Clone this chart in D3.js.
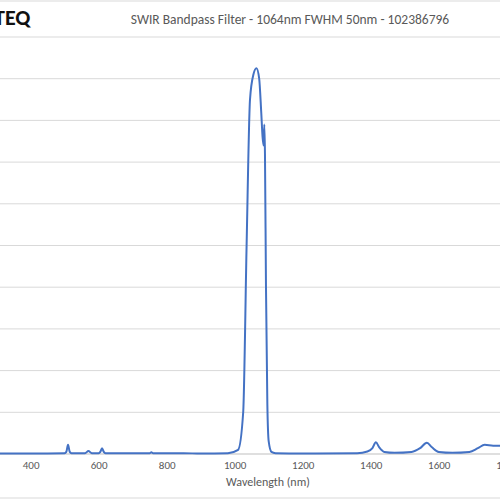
<!DOCTYPE html>
<html><head><meta charset="utf-8">
<script src="https://cdn.jsdelivr.net/npm/d3@7"></script>
<style>body{margin:0;background:#fff}text{font-family:Calibri,Carlito,"Open Sans",sans-serif}</style>
</head><body><svg id="c" width="500" height="500"></svg>
<script>
const wavelength = [310,400,500,505,510,515,520,560,570,580,600,605,610,615,620,750,755,760,850,900,980,1010,1025,1035,1045,1055,1064,1072,1078,1082,1085,1087,1089,1092,1096,1100,1108,1120,1200,1360,1390,1405,1415,1425,1440,1470,1520,1545,1565,1580,1600,1640,1690,1715,1735,1760,1780];
const transmission = [0.1,0.1,0.2,0.5,2.2,0.5,0.2,0.2,0.7,0.2,0.2,0.5,1.4,0.5,0.2,0.2,0.4,0.2,0.2,0.1,0.2,1,10,50,85,91,92.5,90,82,76,74,79,72,40,12,3,0.5,0.2,0.1,0.2,0.6,1.4,2.8,1.6,0.5,0.3,0.5,1.4,2.7,1.6,0.5,0.3,0.5,1.4,2.2,2.0,2.0];
const xTicks = [400,600,800,1000,1200,1400,1600,1800];
const yGrid = [0,10,20,30,40,50,60,70,80,90];

const svg = d3.select("#c");
const x = d3.scaleLinear().domain([310,1780]).range([0,500]);
const y = d3.scaleLinear().domain([0,100]).range([454,37]);

svg.append("line").attr("x1",0).attr("x2",500).attr("y1",1).attr("y2",1).attr("stroke","#d9d9d9");
svg.append("line").attr("x1",0).attr("x2",500).attr("y1",37).attr("y2",37).attr("stroke","#d9d9d9");
svg.append("line").attr("x1",0).attr("x2",500).attr("y1",498).attr("y2",498).attr("stroke","#d9d9d9");
svg.append("text").attr("x",-6).attr("y",25).attr("font-size",22).attr("font-weight","bold").attr("fill","#111").attr("font-family","DejaVu Sans").text("TEQ");
svg.append("text").attr("x",290).attr("y",24).attr("text-anchor","middle").attr("font-size",13.5).attr("fill","#595959").text("SWIR Bandpass Filter - 1064nm FWHM 50nm - 102386796");

svg.selectAll(".g").data(yGrid).join("line").attr("x1",0).attr("x2",500)
 .attr("y1",d=>y(d)).attr("y2",d=>y(d)).attr("stroke",d=>d===0?"#bfbfbf":"#d9d9d9");

const ax = d3.axisBottom(x).tickValues(xTicks).tickFormat(d3.format("d")).tickSize(0).tickPadding(7);
const g = svg.append("g").attr("transform","translate(0,454)").call(ax);
g.select(".domain").remove();
g.selectAll("text").attr("fill","#595959").attr("font-size",11).style("font-family","Calibri,Carlito,'Open Sans',sans-serif");
svg.append("text").attr("x",268).attr("y",486).attr("text-anchor","middle").attr("font-size",12).attr("fill","#595959").text("Wavelength (nm)");

const pts = wavelength.map((w,i)=>[w,transmission[i]]);
svg.append("path").datum(pts).attr("fill","none").attr("stroke","#4472c4").attr("stroke-width",2)
 .attr("d",d3.line().x(d=>x(d[0])).y(d=>y(d[1])).curve(d3.curveMonotoneX));
</script></body></html>
